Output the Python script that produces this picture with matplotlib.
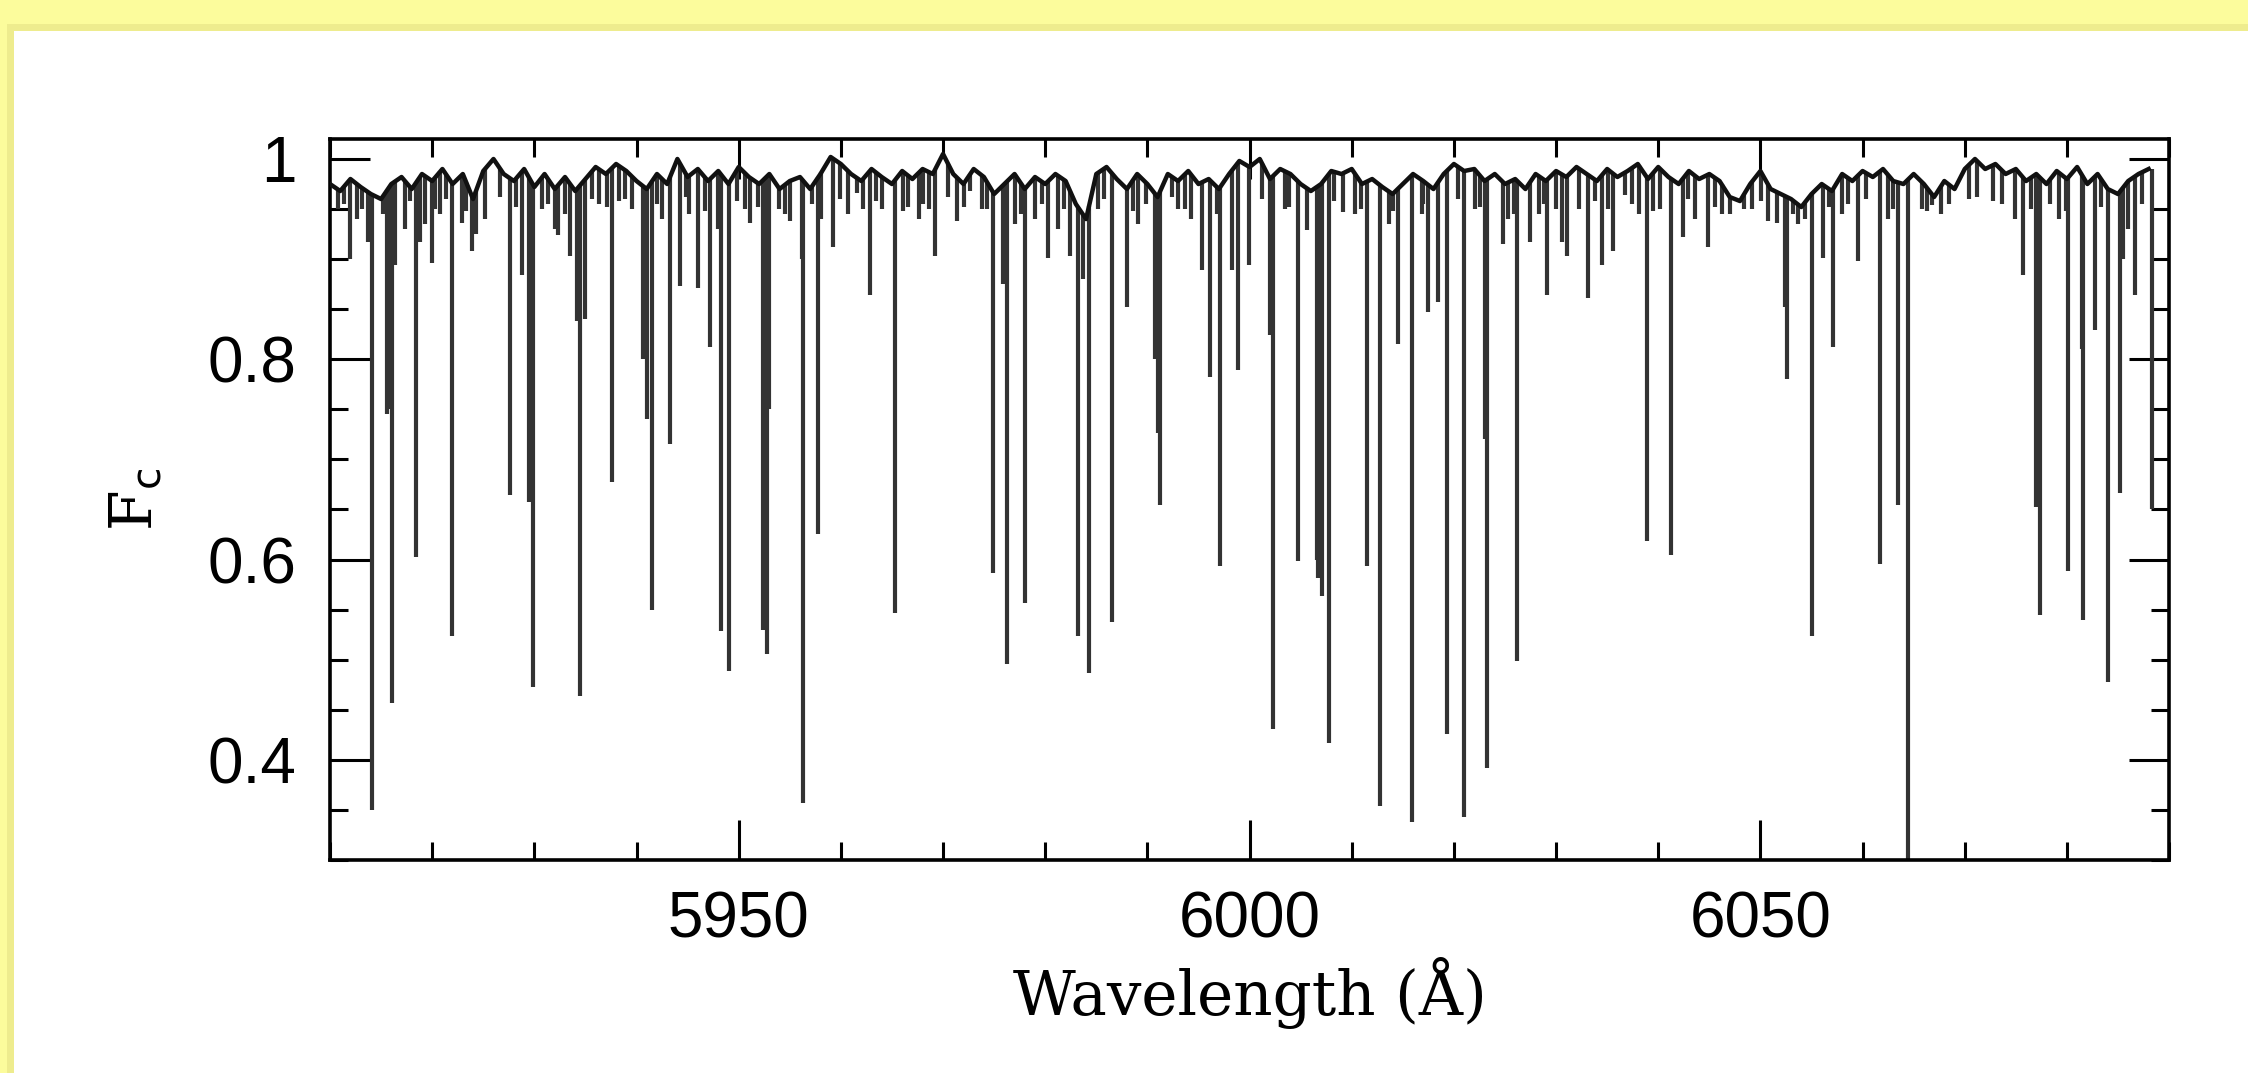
import numpy as np
import matplotlib
matplotlib.use('Agg')
import matplotlib.pyplot as plt
from matplotlib.patches import Rectangle
from matplotlib.ticker import MultipleLocator, FixedLocator, FixedFormatter

# continuum level, sampled every 1 A (5910 .. 6088)
cont_wl = list(range(5910, 6089))
cont_flux = [
    0.975, 0.968, 0.980, 0.972, 0.965, 0.960, 0.975, 0.982, 0.970, 0.985,
    0.978, 0.990, 0.975, 0.985, 0.960, 0.988, 1.000, 0.985, 0.978, 0.990,
    0.972, 0.985, 0.970, 0.982, 0.968, 0.980, 0.992, 0.985, 0.995, 0.988,
    0.978, 0.970, 0.985, 0.975, 1.000, 0.982, 0.990, 0.978, 0.988, 0.975,
    0.992, 0.982, 0.975, 0.985, 0.970, 0.978, 0.982, 0.970, 0.985, 1.002,
    0.995, 0.985, 0.978, 0.990, 0.982, 0.975, 0.988, 0.980, 0.990, 0.985,
    1.005, 0.985, 0.975, 0.990, 0.982, 0.965, 0.975, 0.985, 0.970, 0.982,
    0.975, 0.985, 0.978, 0.955, 0.940, 0.985, 0.992, 0.980, 0.970, 0.985,
    0.975, 0.962, 0.985, 0.978, 0.988, 0.975, 0.980, 0.970, 0.985, 0.998,
    0.992, 1.000, 0.980, 0.990, 0.985, 0.975, 0.968, 0.975, 0.988, 0.985,
    0.990, 0.975, 0.980, 0.972, 0.965, 0.975, 0.985, 0.978, 0.970, 0.985,
    0.995, 0.988, 0.990, 0.978, 0.985, 0.975, 0.980, 0.970, 0.985, 0.978,
    0.988, 0.982, 0.992, 0.985, 0.978, 0.990, 0.982, 0.988, 0.995, 0.980,
    0.992, 0.982, 0.975, 0.988, 0.980, 0.985, 0.978, 0.962, 0.958, 0.975,
    0.988, 0.970, 0.965, 0.960, 0.952, 0.965, 0.975, 0.968, 0.985, 0.978,
    0.988, 0.982, 0.990, 0.978, 0.975, 0.985, 0.975, 0.962, 0.978, 0.970,
    0.990, 1.000, 0.990, 0.995, 0.985, 0.990, 0.978, 0.985, 0.975, 0.988,
    0.980, 0.992, 0.975, 0.985, 0.970, 0.965, 0.978, 0.985, 0.990,
]

# absorption lines: central wavelength and flux at line core
line_wl = [
    5911.96, 5913.75, 5914.08, 5915.60, 5915.90, 5916.04, 5916.36, 5918.39, 5918.80, 5919.95,
    5921.91, 5922.89, 5923.87, 5924.30, 5927.62, 5928.76, 5929.50, 5929.90, 5932.35, 5933.49,
    5934.20, 5934.47, 5935.00, 5937.57, 5940.60, 5941.00, 5941.48, 5943.28, 5944.26, 5946.05,
    5947.19, 5948.27, 5949.05, 5951.11, 5952.40, 5952.74, 5953.00, 5955.02, 5956.20, 5956.33,
    5957.80, 5959.27, 5961.55, 5962.85, 5965.30, 5966.60, 5969.22, 5971.33, 5972.64, 5974.92,
    5975.90, 5976.23, 5978.02, 5980.24, 5982.43, 5983.18, 5983.70, 5984.29, 5986.51, 5987.97,
    5990.70, 5991.00, 5991.24, 5995.32, 5996.13, 5997.11, 5998.25, 5998.90, 5999.99, 6002.00,
    6002.33, 6004.78, 6005.60, 6006.60, 6006.74, 6007.10, 6007.78, 6009.19, 6011.47, 6012.78,
    6014.50, 6015.88, 6017.51, 6018.49, 6019.30, 6021.03, 6023.00, 6023.22, 6024.85, 6026.15,
    6027.46, 6029.09, 6030.56, 6031.04, 6033.16, 6034.47, 6035.61, 6036.75, 6038.87, 6040.18,
    6041.26, 6042.46, 6044.91, 6050.78, 6051.60, 6052.40, 6052.58, 6055.03, 6056.17, 6057.08,
    6059.60, 6061.71, 6063.50, 6064.48, 6066.77, 6075.74, 6077.00, 6077.37, 6080.15, 6081.45,
    6081.61, 6082.76, 6084.06, 6085.20, 6085.50, 6086.67, 6088.30,
    # weak lines in the continuum band
    5910.8, 5912.6, 5917.3, 5919.3, 5920.8, 5925.2, 5930.7, 5932.0, 5936.3, 5938.9,
    5942.5, 5945.1, 5948.0, 5950.6, 5953.9, 5958.1, 5960.7, 5964.0, 5967.6, 5968.6,
    5973.8, 5977.0, 5979.0, 5981.3, 5985.2, 5989.1, 5993.0, 5994.3,
    6003.5, 6010.3, 6013.6, 6016.9, 6022.1, 6025.3, 6028.3,
    6032.2, 6038.1, 6043.6, 6046.2, 6049.2, 6053.7, 6058.0,
    6062.5, 6065.8, 6067.7, 6070.4, 6073.6, 6074.9, 6079.2, 6086.0,
    5911.4, 5913.1, 5915.2, 5917.8, 5920.3, 5921.4, 5923.3, 5926.6, 5928.2, 5931.3,
    5933.0, 5935.6, 5937.1, 5938.3, 5939.6, 5942.0, 5944.8, 5946.7, 5949.8, 5951.9,
    5954.5, 5957.2, 5959.9, 5962.2, 5963.4, 5966.1, 5968.0, 5970.5, 5972.1, 5974.3,
    5977.6, 5979.7, 5981.8, 5985.8, 5988.6, 5989.9, 5992.4, 5993.7, 5996.8, 6001.2,
    6003.9, 6008.3, 6010.9, 6014.0, 6017.0, 6020.4, 6022.6, 6025.9, 6028.8, 6030.0,
    6033.8, 6035.1, 6037.4, 6039.5, 6042.9, 6045.6, 6047.0, 6048.4, 6050.1, 6053.2,
    6054.4, 6056.7, 6058.6, 6060.3, 6063.0, 6066.3, 6068.5, 6071.2, 6072.8, 6076.5,
    6078.3, 6079.9, 6083.3, 6087.3,
]
line_flux = [
    0.900, 0.917, 0.350, 0.745, 0.750, 0.457, 0.894, 0.603, 0.917, 0.896,
    0.524, 0.936, 0.908, 0.925, 0.664, 0.884, 0.657, 0.473, 0.924, 0.903,
    0.838, 0.464, 0.840, 0.677, 0.800, 0.740, 0.550, 0.715, 0.873, 0.871,
    0.812, 0.529, 0.489, 0.936, 0.530, 0.506, 0.750, 0.938, 0.900, 0.357,
    0.626, 0.912, 0.966, 0.864, 0.547, 0.952, 0.903, 0.938, 0.968, 0.587,
    0.875, 0.496, 0.557, 0.901, 0.903, 0.524, 0.880, 0.487, 0.538, 0.852,
    0.800, 0.726, 0.654, 0.889, 0.782, 0.594, 0.889, 0.789, 0.894, 0.824,
    0.431, 0.599, 0.929, 0.600, 0.582, 0.564, 0.417, 0.947, 0.594, 0.354,
    0.815, 0.338, 0.847, 0.857, 0.426, 0.343, 0.720, 0.392, 0.915, 0.499,
    0.917, 0.864, 0.917, 0.903, 0.861, 0.894, 0.908, 0.964, 0.619, 0.950,
    0.605, 0.922, 0.912, 0.938, 0.936, 0.852, 0.780, 0.524, 0.901, 0.812,
    0.898, 0.596, 0.654, 0.290, 0.954, 0.884, 0.652, 0.545, 0.589, 0.810,
    0.540, 0.829, 0.478, 0.666, 0.900, 0.864, 0.650,
    0.950, 0.940, 0.930, 0.935, 0.945, 0.940, 0.950, 0.930, 0.955, 0.960,
    0.940, 0.945, 0.930, 0.950, 0.950, 0.940, 0.945, 0.950, 0.940, 0.950,
    0.950, 0.935, 0.940, 0.930, 0.950, 0.935, 0.950, 0.940,
    0.950, 0.945, 0.935, 0.945, 0.950, 0.940, 0.945,
    0.950, 0.945, 0.940, 0.945, 0.950, 0.935, 0.945,
    0.940, 0.950, 0.945, 0.960, 0.955, 0.940, 0.940, 0.930,
    0.955, 0.950, 0.945, 0.958, 0.950, 0.960, 0.948, 0.962, 0.952, 0.955,
    0.945, 0.960, 0.952, 0.958, 0.950, 0.955, 0.962, 0.948, 0.958, 0.952,
    0.945, 0.955, 0.960, 0.950, 0.958, 0.948, 0.955, 0.962, 0.952, 0.950,
    0.945, 0.955, 0.950, 0.960, 0.948, 0.955, 0.962, 0.950, 0.945, 0.960,
    0.952, 0.958, 0.950, 0.948, 0.955, 0.960, 0.952, 0.945, 0.955, 0.950,
    0.958, 0.950, 0.955, 0.948, 0.960, 0.952, 0.945, 0.950, 0.958, 0.945,
    0.940, 0.952, 0.955, 0.960, 0.950, 0.948, 0.955, 0.962, 0.958, 0.950,
    0.955, 0.948, 0.952, 0.955,
]

fig = plt.figure(figsize=(22.48, 10.73), dpi=100, facecolor='#fcfc9c')
# white panel with a soft shadow edge (behind the axes)
fig.patches.append(Rectangle((0.003, 0), 1, 0.978, transform=fig.transFigure,
                             facecolor='#eeec8e', edgecolor='none', zorder=-10))
fig.patches.append(Rectangle((0.0062, 0), 1, 0.971, transform=fig.transFigure,
                             facecolor='white', edgecolor='none', zorder=-9))

ax = fig.add_axes([0.1468, 0.1985, 0.8181, 0.672])
ax.set_facecolor('none')
ax.set_zorder(5)

# each line hangs from the continuum level at its wavelength
line_top = np.interp(line_wl, cont_wl, cont_flux)
ax.plot(cont_wl, cont_flux, color='#111111', lw=3.2, zorder=3)
ax.vlines(line_wl, line_flux, line_top, color='#333333', lw=3.0, zorder=2)

ax.set_xlim(5910, 6090)
ax.set_ylim(0.3, 1.02)

ax.xaxis.set_major_locator(FixedLocator([5950, 6000, 6050]))
ax.xaxis.set_minor_locator(MultipleLocator(10))
ax.yaxis.set_major_locator(FixedLocator([0.4, 0.6, 0.8, 1.0]))
ax.yaxis.set_major_formatter(FixedFormatter(['0.4', '0.6', '0.8', '1']))
ax.yaxis.set_minor_locator(MultipleLocator(0.05))

ax.tick_params(which='both', direction='in', top=True, right=True, width=2.2,
               colors='black', labelsize=46)
ax.tick_params(which='major', length=29)
ax.tick_params(which='minor', length=13)
ax.tick_params(axis='x', which='major', pad=22)
ax.tick_params(axis='y', which='major', pad=24)
for lab in ax.get_xticklabels() + ax.get_yticklabels():
    lab.set_family('Liberation Sans')

for s in ax.spines.values():
    s.set_linewidth(2.6)

ax.set_xlabel('Wavelength (Å)', family='DejaVu Serif', fontsize=44)
ax.xaxis.set_label_coords(0.5, -0.135)
ax.set_ylabel(r'F$_{\rm c}$', family='DejaVu Serif', fontsize=42)
ax.yaxis.set_label_coords(-0.09, 0.5)

fig.savefig('out.png', dpi=100, facecolor=fig.get_facecolor())
